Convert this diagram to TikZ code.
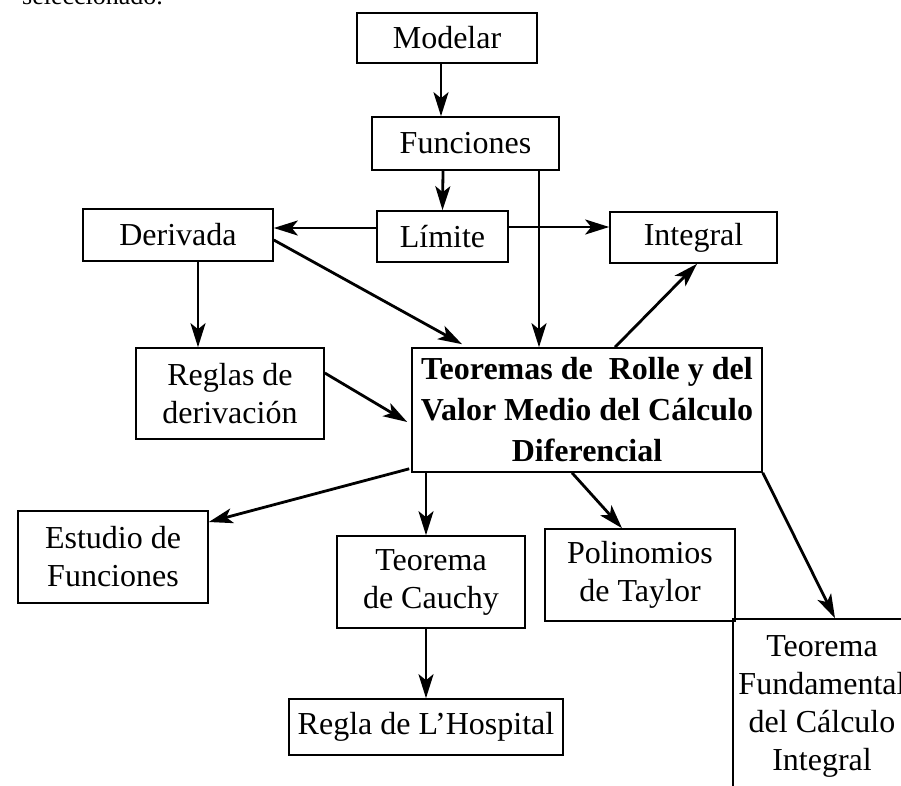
\documentclass[tikz,border=0pt]{standalone}
\usepackage{fontspec}
\setmainfont{Liberation Serif}
\usetikzlibrary{arrows.meta}

\begin{document}
\begin{tikzpicture}[x=1pt, y=-1pt,
  concepto/.style={rectangle, draw, line width=1.6pt, inner sep=0pt, align=center, font=\fontsize{32}{38}\selectfont},
  flecha/.style={line width=2.8pt, -{Stealth[length=24pt, width=15pt, inset=6pt]}}]

\useasboundingbox (0,0) rectangle (901,785);

% CONCEPTOS

\node [anchor=base west, inner sep=0pt, font=\fontsize{26}{30}\selectfont] (seleccionado) at (22,4) {seleccionado.};

\node [concepto, minimum width=180pt, minimum height=50pt] (modelar) at (447,38) {Modelar};

\node [concepto, minimum width=187pt, minimum height=53pt] (funciones) at (465.5,143.5) {Funciones};

\node [concepto, minimum width=131pt, minimum height=51pt] (limite) at (442.5,236.5) {Límite};

\node [concepto, minimum width=190pt, minimum height=52pt] (derivada) at (178,235) {Derivada};

\node [concepto, minimum width=167pt, minimum height=51pt] (integral) at (693.5,237.5) {Integral};

\node [concepto, minimum width=188pt, minimum height=91pt] (reglas) at (230,393.5) {Reglas de\\derivación};

\node [concepto, minimum width=350pt, minimum height=124pt, font=\fontsize{32}{41}\selectfont\bfseries] (teoremas) at (587,410)
{Teoremas de\ \ Rolle y del\\Valor Medio del Cálculo\\Diferencial};

\node [concepto, minimum width=190pt, minimum height=92pt] (estudio) at (113,557) {Estudio de\\Funciones};

\node [concepto, minimum width=188pt, minimum height=92pt] (cauchy) at (431,582) {Teorema\\de Cauchy};

\node [concepto, minimum width=190pt, minimum height=92pt] (polinomios) at (640,575) {Polinomios\\de Taylor};

\node [concepto, minimum width=274pt, minimum height=56pt] (hospital) at (426,727) {Regla de L’Hospital};

\node [concepto, minimum width=178pt, minimum height=174pt] (fundamental) at (822,706) {Teorema\\Fundamental\\del Cálculo\\Integral};

% FLECHAS

\draw [flecha] ([xshift=-6pt]modelar.south) -- ([xshift=-24.5pt]funciones.north);
\draw [flecha] ([xshift=-22.5pt]funciones.south) -- (limite.north);
\draw [flecha] ([xshift=73.5pt]funciones.south) -- ([xshift=-48pt]teoremas.north);
\draw [flecha] ([yshift=8.5pt]limite.west) -- ([yshift=7pt]derivada.east);
\draw [flecha] ([yshift=9.5pt]limite.east) -- ([yshift=10.5pt]integral.west);
\draw [flecha] ([yshift=-5pt]derivada.east) -- ([xshift=-125pt,yshift=3pt]teoremas.north);
\draw [flecha] ([xshift=20pt]derivada.south) -- ([xshift=-32pt]reglas.north);
\draw [flecha] ([yshift=20.5pt]reglas.east) -- ([xshift=-4pt,yshift=-12pt]teoremas.west);
\draw [flecha] ([xshift=28pt]teoremas.north) -- ([xshift=3.5pt]integral.south);
\draw [flecha] ([xshift=-2pt,yshift=4pt]teoremas.south west) -- ([yshift=35pt]estudio.east);
\draw [flecha] ([xshift=-161pt]teoremas.south) -- ([xshift=-5pt]cauchy.north);
\draw [flecha] ([xshift=-15pt]teoremas.south) -- ([xshift=-18pt]polinomios.north);
\draw [flecha] (teoremas.south east) -- ([xshift=13pt]fundamental.north);
\draw [flecha] ([xshift=-5pt]cauchy.south) -- (hospital.north);

\end{tikzpicture}
\end{document}
